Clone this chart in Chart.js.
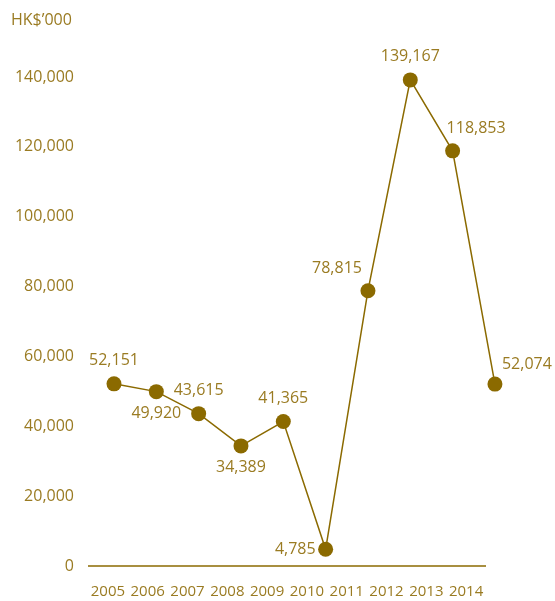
<!DOCTYPE html>
<html>
<head>
<meta charset="utf-8">
<script src="https://cdn.jsdelivr.net/npm/chart.js@4"></script>
<style>
  html, body { margin: 0; padding: 0; background: #fff; }
  #wrap { width: 555px; height: 601px; }
</style>
</head>
<body>
<div id="wrap"><canvas id="lineChart"></canvas></div>
<script>
// données du graphique
const years = ['2005', '2006', '2007', '2008', '2009', '2010', '2011', '2012', '2013', '2014'];
const amounts = [52151, 49920, 43615, 34389, 41365, 4785, 78815, 139167, 118853, 52074];
const yTicks = [0, 20000, 40000, 60000, 80000, 100000, 120000, 140000];
const unitLabel = 'HK$\u2019000';
// position de chaque étiquette par rapport au point
const labelPos = ['top', 'bottom', 'top', 'bottom', 'top', 'left', 'topleft', 'top', 'topright', 'upright'];

const gold = '#8B6A00';
const textGold = '#9A7B22';
const fontFamily = '"Open Sans", "Noto Sans", sans-serif';

// Plugin pour écrire les valeurs, l'unité et la ligne de l'axe X
const valueLabels = {
    id: 'valueLabels',
    beforeDatasetsDraw(chart) {
        const ctx = chart.ctx;
        const xs = chart.scales.x;
        const yBottom = chart.chartArea.bottom;
        ctx.save();
        ctx.strokeStyle = gold;
        ctx.lineWidth = 1.5;
        ctx.beginPath();
        ctx.moveTo(xs.getPixelForValue(-0.5), yBottom);
        ctx.lineTo(xs.getPixelForValue(years.length - 0.5), yBottom);
        ctx.stroke();
        ctx.restore();
    },
    afterDatasetsDraw(chart) {
        const ctx = chart.ctx;
        const meta = chart.getDatasetMeta(0);
        ctx.save();
        ctx.font = '16px ' + fontFamily;
        ctx.fillStyle = textGold;
        meta.data.forEach((pt, i) => {
            const txt = amounts[i].toLocaleString('en-US');
            let x = pt.x, y = pt.y;
            ctx.textBaseline = 'middle';
            ctx.textAlign = 'center';
            switch (labelPos[i]) {
                case 'top': y -= 23; break;
                case 'bottom': y += 22; break;
                case 'left': x -= 10; ctx.textAlign = 'right'; break;
                case 'topleft': x -= 6; y -= 22; ctx.textAlign = 'right'; break;
                case 'topright': x -= 6; y -= 22; ctx.textAlign = 'left'; break;
                case 'upright': x += 7; y -= 20; ctx.textAlign = 'left'; break;
            }
            ctx.fillText(txt, x, y);
        });
        ctx.textAlign = 'left';
        ctx.textBaseline = 'middle';
        ctx.fillText(unitLabel, 11, 20);
        ctx.restore();
    }
};

const ctx = document.getElementById('lineChart').getContext('2d');
new Chart(ctx, {
    type: 'line',
    data: {
        labels: years,
        datasets: [{
            data: amounts.map((v, i) => ({ x: i, y: v })),
            xAxisID: 'xd',
            borderColor: gold,
            borderWidth: 1.5,
            backgroundColor: gold,
            pointBackgroundColor: gold,
            pointBorderColor: gold,
            pointRadius: 7.5,
            pointBorderWidth: 0,
            tension: 0,
            clip: false
        }]
    },
    options: {
        responsive: true,
        maintainAspectRatio: false,
        animation: false,
        events: [],
        layout: { padding: { top: 77, right: 51, left: 0, bottom: 0 } },
        plugins: { legend: { display: false }, tooltip: { enabled: false } },
        scales: {
            // axe des étiquettes (années)
            x: {
                type: 'linear',
                min: -0.5,
                max: 9.952,
                afterBuildTicks(scale) { scale.ticks = years.map((y, i) => ({ value: i })); },
                grid: { display: false, drawTicks: false },
                border: { display: false },
                ticks: {
                    color: textGold,
                    font: { family: fontFamily, size: 15 },
                    padding: 17,
                    maxRotation: 0,
                    autoSkip: false,
                    callback: (v, i) => years[i]
                },
                afterFit(scale) { scale.height = 35; }
            },
            // axe des points
            xd: {
                type: 'linear',
                display: false,
                min: -0.614,
                max: 9.214
            },
            y: {
                min: 0,
                max: 140000,
                afterBuildTicks(scale) { scale.ticks = yTicks.map(v => ({ value: v })); },
                grid: { display: false, drawTicks: false },
                border: { display: false },
                ticks: {
                    color: textGold,
                    font: { family: fontFamily, size: 16 },
                    padding: 14,
                    callback: v => v.toLocaleString('en-US')
                },
                afterFit(scale) { scale.width = 88; }
            }
        }
    },
    plugins: [valueLabels]
});
</script>
</body>
</html>
